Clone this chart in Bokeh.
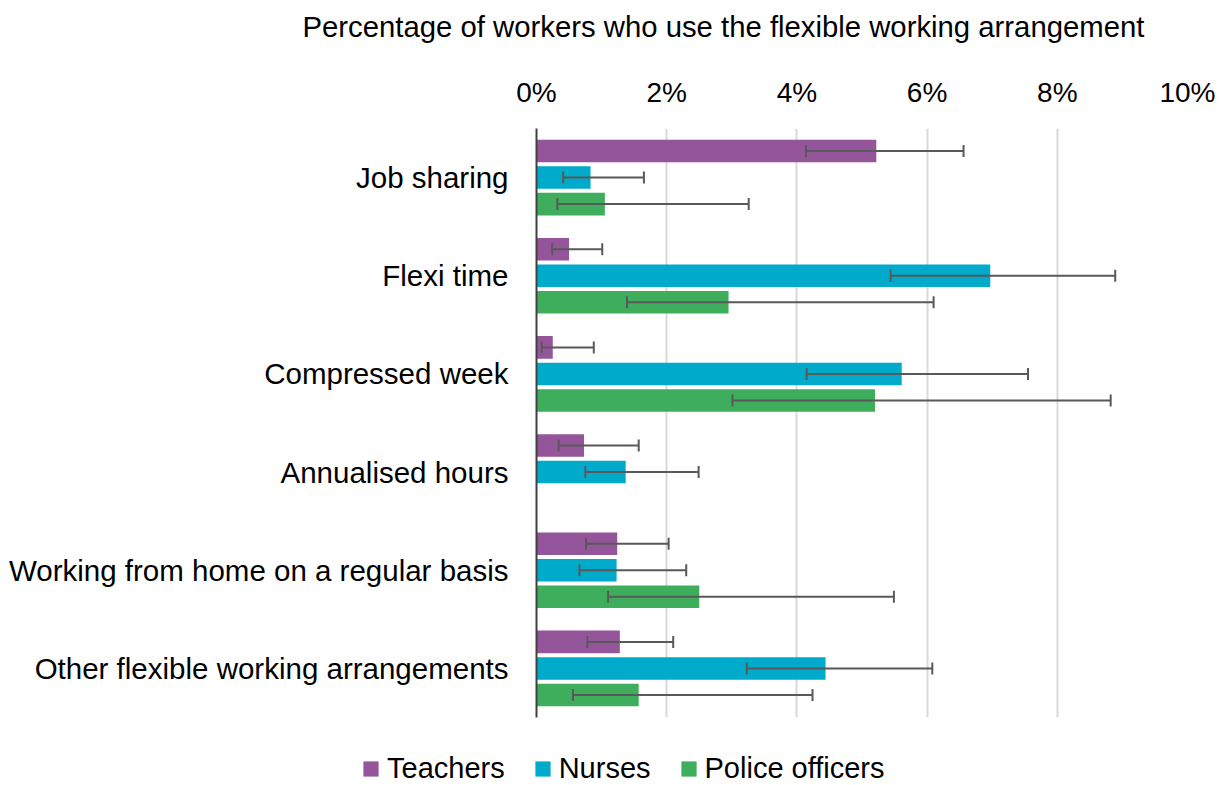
import math
from bokeh.plotting import figure
from bokeh.models import (ColumnDataSource, FactorRange, Range1d, FixedTicker,
                          PrintfTickFormatter, Legend, LegendItem, Label)
from bokeh.transform import dodge
from bokeh.embed import file_html
from bokeh.resources import INLINE

categories = ["Job sharing", "Flexi time", "Compressed week", "Annualised hours",
              "Working from home on a regular basis", "Other flexible working arrangements"]
series = ["Teachers", "Nurses", "Police officers"]
colors = ["#95559A", "#00AACB", "#3FAE5C"]

teachers = [5.22, 0.50, 0.25, 0.73, 1.24, 1.28]
teachers_lo = [4.14, 0.24, 0.08, 0.34, 0.76, 0.78]
teachers_hi = [6.56, 1.01, 0.88, 1.57, 2.03, 2.10]

nurses = [0.83, 6.97, 5.61, 1.37, 1.23, 4.44]
nurses_lo = [0.41, 5.44, 4.15, 0.75, 0.66, 3.23]
nurses_hi = [1.65, 8.89, 7.55, 2.49, 2.30, 6.08]

police = [1.05, 2.95, 5.20, float("nan"), 2.50, 1.57]
police_lo = [0.32, 1.39, 3.01, float("nan"), 1.10, 0.56]
police_hi = [3.26, 6.10, 8.82, float("nan"), 5.49, 4.24]

x_ticks = [0, 2, 4, 6, 8, 10]
title_text = "Percentage of workers who use the flexible working arrangement"

FONT = "Liberation Sans"
W = 1222
HT = 52      # title strip
HM = 678     # main chart
HL = 55      # legend strip


def strip(height):
    f = figure(width=W, height=height, output_backend="svg", toolbar_location=None,
               x_range=Range1d(0, 1), y_range=Range1d(0, 1),
               min_border=0, min_border_left=0, min_border_right=0,
               min_border_top=0, min_border_bottom=0)
    f.axis.visible = False
    f.grid.visible = False
    f.outline_line_color = None
    f.background_fill_color = "white"
    f.border_fill_color = "white"
    return f


# ---- title strip
tf = strip(HT)
tf.add_layout(Label(x=302, y=HT - 26, x_units="screen", y_units="screen",
                    text=title_text, text_font=FONT, text_font_size="29.3px",
                    text_color="#000000", text_baseline="middle", text_align="left"))

# ---- main chart
top = 128 - HT
p = figure(width=W, height=HM, output_backend="svg", toolbar_location=None,
           y_range=FactorRange(factors=categories[::-1], range_padding=0),
           x_range=Range1d(0, 10), x_axis_location="above",
           min_border_left=536, min_border_right=W - 1187, min_border_top=top,
           min_border_bottom=HT + HM - 717)
p.outline_line_color = None
p.background_fill_color = "white"
p.border_fill_color = "white"

data = [(teachers, teachers_lo, teachers_hi), (nurses, nurses_lo, nurses_hi),
        (police, police_lo, police_hi)]
offsets = [0.27, 0.0, -0.27]

for (vals, lo, hi), off, col in zip(data, offsets, colors):
    src = ColumnDataSource(dict(cat=categories, val=vals, lo=lo, hi=hi))
    p.hbar(y=dodge("cat", off, range=p.y_range), right="val", left=0,
           height=0.23, source=src, fill_color=col, line_color=None)
    p.segment(x0="lo", x1="hi", y0=dodge("cat", off, range=p.y_range),
              y1=dodge("cat", off, range=p.y_range), source=src,
              line_color="#595959", line_width=2)
    for key in ("lo", "hi"):
        p.scatter(x=key, y=dodge("cat", off, range=p.y_range), source=src,
                  marker="dash", angle=math.pi / 2, size=12,
                  line_color="#595959", line_width=2)

xa = p.xaxis[0]
xa.ticker = FixedTicker(ticks=x_ticks)
xa.formatter = PrintfTickFormatter(format="%d%%")
xa.axis_line_color = None
xa.major_tick_line_color = None
xa.minor_tick_line_color = None
xa.major_label_text_font = FONT
xa.major_label_text_font_size = "28px"
xa.major_label_text_color = "#000000"
xa.major_label_standoff = 15

ya = p.yaxis[0]
ya.axis_line_color = "#404040"
ya.axis_line_width = 2
ya.major_tick_line_color = None
ya.minor_tick_line_color = None
ya.major_label_text_font = FONT
ya.major_label_text_font_size = "29.5px"
ya.major_label_text_color = "#000000"
ya.major_label_standoff = 22

p.xgrid.ticker = FixedTicker(ticks=x_ticks[1:])
p.xgrid.grid_line_color = "#D9D9D9"
p.xgrid.grid_line_width = 2
p.ygrid.grid_line_color = None

# ---- legend strip
lg = strip(HL)
items = []
for col, name in zip(colors, series):
    src = ColumnDataSource(dict(y=[float("nan")], right=[float("nan")]))
    r = lg.hbar(y="y", right="right", height=0.5, source=src,
                fill_color=col, line_color=None)
    items.append(LegendItem(label=name, renderers=[r]))

legend = Legend(items=items, orientation="horizontal", location=(361, 0),
                glyph_width=19, glyph_height=19, label_standoff=7, spacing=28,
                padding=0, margin=0, border_line_color=None,
                background_fill_alpha=0,
                label_text_font=FONT, label_text_font_size="29px",
                label_text_color="#000000")
lg.add_layout(legend, "center")

open("out.html", "w").write(file_html([tf, p, lg], INLINE))
